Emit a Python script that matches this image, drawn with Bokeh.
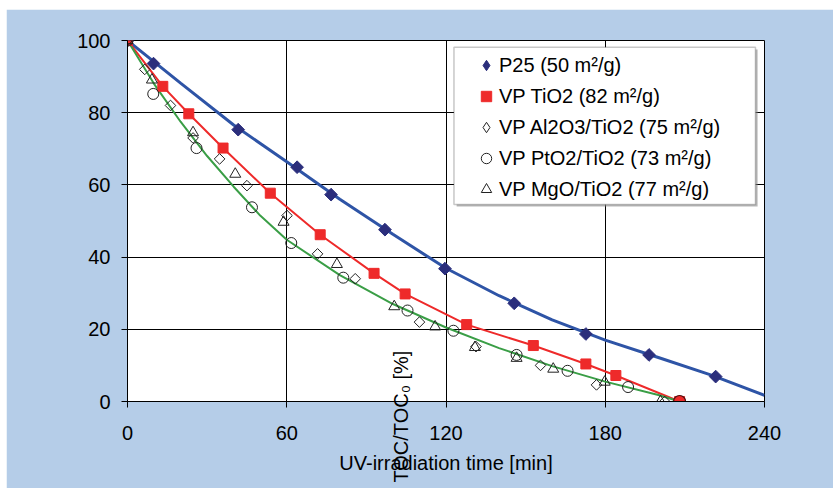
import math
from bokeh.plotting import figure
from bokeh.models import FixedTicker, Legend, LegendItem, BoxAnnotation
from bokeh.core.properties import value
from bokeh.embed import file_html
from bokeh.resources import INLINE

# ---------------- data ----------------
x_ticks = [0, 60, 120, 180, 240]
y_ticks = [0, 20, 40, 60, 80, 100]

p25_x = [0, 9.8, 41.7, 63.9, 76.7, 97, 119.6, 145.7, 172.7, 196.5, 221.6]
p25_y = [100, 93.6, 75.3, 64.9, 57.3, 47.6, 36.8, 27.2, 18.7, 12.9, 6.9]

p25_fit_x = [0, 20, 40, 60, 80, 100, 120, 140, 160, 180, 200, 220, 240]
p25_fit_y = [100, 88.2, 76.6, 66.4, 56.0, 46.3, 36.9, 29.3, 22.6, 17.0, 12.2, 7.3, 1.7]

vp_x = [0, 13.3, 23.1, 36, 53.8, 72.6, 92.9, 104.6, 127.8, 152.9, 172.7, 184, 208]
vp_y = [100, 87.3, 79.7, 70.2, 57.7, 46.2, 35.5, 29.8, 21.3, 15.5, 10.4, 7.2, 0]

al_x = [0, 6.5, 16.2, 24.7, 34.7, 45, 60.1, 71.6, 85.8, 110, 131.3, 155.6, 176.7, 202.4]
al_y = [100, 92, 82, 73.0, 67.2, 59.8, 51.5, 40.9, 34, 22, 15.2, 10, 4.6, 0]

pt_x = [0, 9.7, 26, 46.9, 61.7, 81.3, 105.5, 122.8, 146.6, 165.8, 188.6, 208]
pt_y = [100, 85.2, 70.2, 53.8, 43.9, 34.3, 25.2, 19.6, 12.9, 8.5, 4, 0]

mg_x = [0, 9.2, 24.7, 40.6, 58.8, 78.9, 100.5, 115.9, 130.9, 146.6, 160.4, 179.8, 200.8]
mg_y = [100, 89.1, 74.5, 63, 49.7, 38, 26.3, 20.7, 15, 12, 9, 5.4, 0]

green_fit_x = [0, 10, 20, 30, 40, 50, 60, 80, 100, 120, 140, 160, 180, 200, 208]
green_fit_y = [100, 88, 77.5, 68, 59.5, 51.5, 44.8, 35, 27, 20.5, 14.8, 9.8, 5.5, 1.8, 0]

labels = ["P25 (50 m²/g)", "VP TiO2 (82 m²/g)", "VP Al2O3/TiO2 (75 m²/g)",
          "VP PtO2/TiO2 (73 m²/g)", "VP MgO/TiO2 (77 m²/g)"]
y_title = "TOC/TOC₀ [%]"
x_title = "UV-irradiation time [min]"

FONT = "Liberation Sans"
BLUE_MK = "#2B2E7C"
RED = "#EE2A2A"
DARK = "#222222"
NAN = float("nan")

p = figure(width=827, height=479, x_range=(0, 240), y_range=(0, 100),
           output_backend="svg", toolbar_location=None)
p.styles = {"margin-left": "6px", "margin-top": "9px"}
p.min_border_left = 121
p.min_border_top = 31
p.min_border_right = 69
p.min_border_bottom = 87
p.border_fill_color = "#B5CDE8"
p.background_fill_color = "white"
p.outline_line_color = "black"
p.outline_line_width = 1

for ax, ticks in ((p.xaxis[0], x_ticks), (p.yaxis[0], y_ticks)):
    ax.ticker = FixedTicker(ticks=ticks)
    ax.major_tick_out = 6
    ax.major_tick_in = 0
    ax.minor_tick_out = 0
    ax.minor_tick_in = 0
    ax.axis_line_color = "black"
    ax.major_tick_line_color = "black"
    ax.major_label_text_font = FONT
    ax.major_label_text_font_size = "20px"
    ax.major_label_text_color = "black"

p.xaxis.major_label_standoff = 18
p.yaxis.major_label_standoff = 11
p.xaxis.axis_label = x_title
p.xaxis.axis_label_text_font = FONT
p.xaxis.axis_label_text_font_size = "20px"
p.xaxis.axis_label_text_font_style = "normal"
p.xaxis.axis_label_text_color = "black"
p.xaxis.axis_label_standoff = 9

p.xgrid.ticker = FixedTicker(ticks=x_ticks)
p.ygrid.ticker = FixedTicker(ticks=y_ticks)
for g in (p.xgrid[0], p.ygrid[0]):
    g.grid_line_color = "black"
    g.grid_line_width = 1
    g.grid_line_alpha = 1

# fitted / connecting lines
p.line(p25_fit_x, p25_fit_y, line_color="#2E54A6", line_width=3)
p.line(vp_x, vp_y, line_color=RED, line_width=2)
p.line(green_fit_x, green_fit_y, line_color="#3A9E46", line_width=2)

# markers
p.scatter(p25_x, p25_y, marker="square", angle=math.pi / 4, size=9,
          fill_color=BLUE_MK, line_color=BLUE_MK)
r_vp = p.scatter(vp_x, vp_y, marker="square", size=10,
                 fill_color=RED, line_color=RED)
p.scatter(al_x, al_y, marker="square", angle=math.pi / 4, size=7.5,
          fill_alpha=0, line_color=DARK, line_width=1)
r_pt = p.scatter(pt_x, pt_y, marker="circle", size=11,
                 fill_alpha=0, line_color=DARK, line_width=1)
r_mg = p.scatter(mg_x, mg_y, marker="triangle", size=11,
                 fill_alpha=0, line_color=DARK, line_width=1)
# end point of the VP TiO2 curve (red dot)
p.scatter([vp_x[-1]], [vp_y[-1]], marker="circle", size=12,
          fill_color=RED, line_color="#551111", line_width=1.2)

# legend swatches for the diamond series (legend cannot rotate squares);
# a single NaN point keeps them out of the plot area
lg_p25 = p.scatter(x=[NAN], y=[NAN], marker="diamond",
                   fill_color=BLUE_MK, line_color=BLUE_MK)
lg_al = p.scatter(x=[NAN], y=[NAN], marker="diamond",
                  fill_alpha=0, line_color=DARK, line_width=1)

# misplaced y-axis title, as in the reference (drawn unclipped)
p.text(x=[103.1], y=[14.1], text=[y_title], angle=math.pi / 2,
       text_align="right", text_baseline="middle",
       text_font=value(FONT), text_font_size=value("20px"), text_color="black",
       level="overlay")

# legend box + shadow
p.add_layout(BoxAnnotation(left=124.0, right=237.4, top=97.5, bottom=54.0,
                           fill_color="#888888", fill_alpha=0.6, line_alpha=0))
p.add_layout(BoxAnnotation(left=123.0, right=236.6, top=98.1, bottom=54.6,
                           fill_color="white", fill_alpha=1,
                           line_color="#444444", line_width=1.5))

legend = Legend(items=[LegendItem(label=labels[0], renderers=[lg_p25]),
                       LegendItem(label=labels[1], renderers=[r_vp]),
                       LegendItem(label=labels[2], renderers=[lg_al]),
                       LegendItem(label=labels[3], renderers=[r_pt]),
                       LegendItem(label=labels[4], renderers=[r_mg])],
                location=(346, 198), padding=0, margin=0, spacing=3,
                glyph_width=26, glyph_height=28, label_height=28,
                label_standoff=0, border_line_alpha=0, background_fill_alpha=0,
                label_text_font=FONT, label_text_font_size="20px",
                label_text_color="black", label_text_baseline="middle")
p.add_layout(legend)

open("out.html", "w").write(file_html(p, INLINE))
